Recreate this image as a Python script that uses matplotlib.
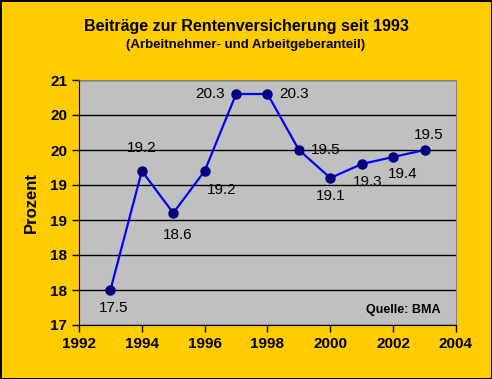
import matplotlib.pyplot as plt
from matplotlib.ticker import FuncFormatter, MultipleLocator

years = [1993, 1994, 1995, 1996, 1997, 1998, 1999, 2000, 2001, 2002, 2003]
rates = [17.5, 19.2, 18.6, 19.2, 20.3, 20.3, 19.5, 19.1, 19.3, 19.4, 19.5]
labels = ["17.5", "19.2", "18.6", "19.2", "20.3", "20.3", "19.5", "19.1", "19.3", "19.4", "19.5"]
# label offsets in points (dx, dy)
offsets = [(2, -13), (0, 16.5), (3, -16), (12, -14), (-19, 0), (19, 0),
           (19, 0), (0, -13), (4, -13), (7, -12), (3, 11)]

plt.rcParams['font.family'] = ['Liberation Sans', 'DejaVu Sans']

fig = plt.figure(figsize=(4.92, 3.79), dpi=100, facecolor='#FFCC00',
                 edgecolor='black', linewidth=2)
ax = fig.add_axes([79/492, 54/379, 377/492, 245/379])
ax.set_facecolor('#C0C0C0')

ax.plot(years, rates, color='#0000FF', lw=1.6, marker='o', ms=6.5,
        mfc='#000080', mec='#000080', zorder=3)

for x, y, t, (dx, dy) in zip(years, rates, labels, offsets):
    ax.annotate(t, (x, y), xytext=(dx, dy), textcoords='offset points',
                ha='center', va='center', fontsize=11, color='black')

ax.set_xlim(1992, 2004)
ax.set_ylim(17, 20.5)
ax.xaxis.set_major_locator(MultipleLocator(2))
ax.yaxis.set_major_locator(MultipleLocator(0.5))
ax.yaxis.set_major_formatter(FuncFormatter(lambda v, p: "%d" % int(v + 0.5)))
ax.yaxis.grid(True, color='black', lw=1)
ax.set_axisbelow(True)
ax.tick_params(labelsize=11, length=5, width=1, color='black', direction='out')
for lab in ax.get_xticklabels() + ax.get_yticklabels():
    lab.set_fontweight('bold')
ax.spines['top'].set_color('#808080')
ax.spines['right'].set_color('#808080')

ax.set_ylabel('Prozent', fontsize=12, fontweight='bold', labelpad=8)
ax.text(0.96, 0.06, 'Quelle: BMA', transform=ax.transAxes, ha='right',
        va='center', fontsize=9, fontweight='bold')

fig.text(0.5, 1 - 27/379, 'Beiträge zur Rentenversicherung seit 1993',
         ha='center', va='center', fontsize=11.5, fontweight='bold')
fig.text(0.5, 1 - 45/379, '(Arbeitnehmer- und Arbeitgeberanteil)',
         ha='center', va='center', fontsize=9.5, fontweight='bold')

fig.savefig('out.png', dpi=100, facecolor=fig.get_facecolor(),
            edgecolor=fig.get_edgecolor())
